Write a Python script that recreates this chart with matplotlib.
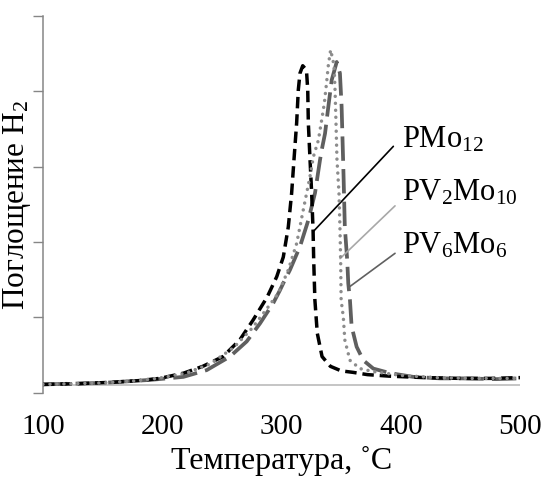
import matplotlib
matplotlib.use("Agg")
import matplotlib.pyplot as plt

plt.rcParams['font.family'] = ['Liberation Serif', 'DejaVu Serif']
plt.rcParams['mathtext.fontset'] = 'custom'
plt.rcParams['mathtext.rm'] = 'Liberation Serif'
plt.rcParams['mathtext.it'] = 'Liberation Serif:italic'

# ---- data ----
x_pmo12 = [100, 130, 160, 180, 198, 218, 234, 251, 265, 276, 288, 296, 301.5, 305.7,
           308.5, 310.5, 312.7, 314.1, 315.5, 317.8, 320, 321.1, 322, 322.5, 323.9,
           325.3, 326.5, 327, 328, 330, 334, 341, 350, 360, 372, 390, 420, 450, 475, 500]
y_pmo12 = [0.11, 0.12, 0.14, 0.16, 0.19, 0.26, 0.35, 0.48, 0.70, 0.96, 1.27, 1.54, 1.80, 2.20,
           2.65, 3.10, 3.58, 4.02, 4.24, 4.34, 4.30, 4.24, 4.02, 3.58, 3.10,
           2.65, 2.14, 1.76, 1.23, 0.79, 0.48, 0.35, 0.29, 0.27, 0.24, 0.22, 0.20, 0.19, 0.19, 0.20]

x_pv2mo10 = [100, 150, 180, 200, 220, 240, 260, 275, 287, 297.3, 305.7, 312.7, 318.3,
             323.9, 326.7, 330.9, 333.7, 335.9, 337.9, 339.3, 341.2, 344, 344.9, 345.7,
             346.5, 348.2, 349, 349.6, 350, 351.8, 353.1, 357.4, 365.8, 377, 400, 430, 460, 500]
y_pv2mo10 = [0.11, 0.13, 0.16, 0.20, 0.26, 0.38, 0.60, 0.85, 1.10, 1.32, 1.63, 1.98, 2.43,
             2.87, 3.13, 3.35, 3.62, 3.84, 4.13, 4.35, 4.55, 4.35, 4.02, 3.58,
             3.10, 2.65, 2.20, 1.76, 1.23, 1.01, 0.70, 0.43, 0.32, 0.28, 0.23, 0.20, 0.19, 0.19]

x_pv6mo6 = [100, 150, 190, 217.7, 237.3, 256.8, 270.8, 282, 293.1, 298.7, 302.9, 307.1,
            315.5, 322.5, 328.1, 332.3, 333.7, 336.5, 339.3, 342.1, 346.3, 349, 350.4,
            351.2, 352, 353.1, 355.1, 356, 357.4, 358.8, 363, 368.6, 377, 391, 410.5,
            433, 452, 480, 500]
y_pv6mo6 = [0.11, 0.13, 0.17, 0.21, 0.30, 0.48, 0.68, 0.92, 1.19, 1.36, 1.50, 1.63,
            1.94, 2.29, 2.65, 3.09, 3.22, 3.44, 3.80, 4.15, 4.39, 4.24, 3.80,
            3.35, 2.90, 2.20, 1.76, 1.45, 1.23, 0.88, 0.61, 0.43, 0.32, 0.26, 0.21,
            0.19, 0.19, 0.18, 0.19]

series_names = ['PMo$_\\mathregular{12}$', 'PV$_\\mathregular{2}$Mo$_\\mathregular{10}$',
                'PV$_\\mathregular{6}$Mo$_\\mathregular{6}$']
x_ticks = [100, 200, 300, 400, 500]
y_ticks = [0, 1, 2, 3, 4, 5]

# ---- figure ----
fig = plt.figure(figsize=(5.47, 4.82), dpi=100)
ax = fig.add_axes([43/547, 1-392.7/482, (520-43)/547, (392.7-16)/482])

ax.axhline(0.102, color='#c0c0c0', lw=1.3, zorder=1)

ax.plot(x_pmo12, y_pmo12, color='black', lw=2.5, dashes=(3.3, 1.7), zorder=3)
ax.plot(x_pv2mo10, y_pv2mo10, color='#8c8c8c', lw=2.5, dashes=(0.01, 2.0),
        dash_capstyle='round', zorder=4)
ax.plot(x_pv6mo6, y_pv6mo6, color='#5f5f5f', lw=2.7, dashes=(6.5, 2.2), zorder=2)

# labels with leader lines
label_x = 401
label_y = [3.256, 2.548, 1.841]
leader_colors = ['black', '#a8a8a8', '#606060']
leader_from = [(393.8, 3.27), (395.2, 2.48), (395.2, 1.85)]
leader_to = [(326.7, 2.14), (349.1, 1.78), (357.4, 1.41)]
for name, ly, c, a, b in zip(series_names, label_y, leader_colors, leader_from, leader_to):
    ax.annotate('', xy=b, xytext=a,
                arrowprops=dict(arrowstyle='-', color=c, lw=1.2, shrinkA=0, shrinkB=0))
    ax.text(label_x, ly, name, fontsize=22, ha='left', va='baseline')

ax.set_xlim(100, 500)
ax.set_ylim(0, 5)
ax.set_xticks(x_ticks)
ax.set_yticks(y_ticks)
ax.set_yticklabels([])
ax.tick_params(axis='x', length=0, pad=15, labelsize=21)
ax.tick_params(axis='y', direction='out', length=7.2, width=1, color='#868686')

for s in ['top', 'right', 'bottom']:
    ax.spines[s].set_visible(False)
ax.spines['left'].set_color('#868686')
ax.spines['left'].set_linewidth(1.1)

ax.set_xlabel('Температура, ˚C', fontsize=23, labelpad=5)
ax.set_ylabel('Поглощение H$_\\mathregular{2}$', fontsize=22.5)
ax.yaxis.set_label_coords(-0.02, 0.497)

fig.savefig('out.png', dpi=100)
